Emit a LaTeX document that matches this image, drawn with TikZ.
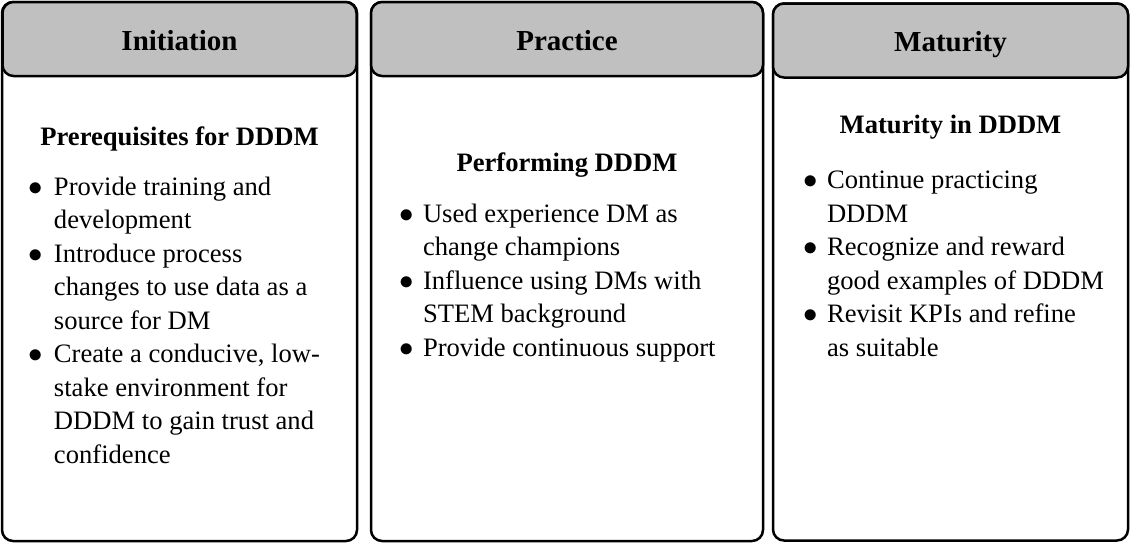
\documentclass[tikz,border=0pt]{standalone}
\usepackage{fontspec}
\setmainfont{Liberation Serif}
\usetikzlibrary{positioning}
\definecolor{hdgray}{HTML}{C0C0C0}
\newcommand{\blt}{$\bullet$}

\begin{document}
\begin{tikzpicture}[x=1pt,y=1pt,outer sep=0pt,
	panel/.style={draw,line width=1.25pt,rounded corners=5.5pt,fill=white,inner sep=0pt},
	phase/.style={panel,fill=hdgray,minimum height=37pt,text height=11pt,text depth=0pt,
		font=\bfseries\fontsize{14.5}{17}\selectfont},
	sub/.style={inner sep=0pt,anchor=base,font=\bfseries\fontsize{13.3}{16.75}\selectfont},
	items/.style={inner sep=0pt,anchor=base west,font=\fontsize{13.3}{16.75}\selectfont}]
	\useasboundingbox (0,0) rectangle (565,-271);
	% panels
	\node[panel,minimum width=177.5pt,minimum height=269.5pt,anchor=north west] (p1) at (1,-1) {};
	\node[panel,minimum width=196pt,minimum height=269.5pt,right=7pt of p1] (p2) {};
	\node[panel,minimum width=177.5pt,minimum height=268.5pt,right=5pt of p2,yshift=-0.25pt] (p3) {};
	% headers
	\node[phase,minimum width=177pt,anchor=north] (h1) at (p1.north) {Initiation};
	\node[phase,minimum width=196pt,anchor=north] (h2) at (p2.north) {Practice};
	\node[phase,minimum width=177.5pt,anchor=north] (h3) at (p3.north) {Maturity};
	% subheadings
	\node[below=34.5pt of h1.south,sub] (s1) {Prerequisites for DDDM};
	\node[below=47.5pt of h2.south,sub] (s2) {Performing DDDM};
	\node[below=28pt of h3.south,sub] (s3) {Maturity in DDDM};
	% bullet lists
	\node[below right=96.5pt and 13pt of p1.north west,items] (l1) {%
		\begin{tabular}[t]{@{}p{13pt}@{}l@{}}
		\blt & Provide training and\\
		& development\\
		\blt & Introduce process\\
		& changes to use data as a\\
		& source for DM\\
		\blt & Create a conducive, low-\\
		& stake environment for\\
		& DDDM to gain trust and\\
		& confidence
		\end{tabular}};
	\node[below right=110pt and 14pt of p2.north west,items] (l2) {%
		\begin{tabular}[t]{@{}p{12pt}@{}l@{}}
		\blt & Used experience DM as\\
		& change champions\\
		\blt & Influence using DMs with\\
		& STEM background\\
		\blt & Provide continuous support
		\end{tabular}};
	\node[below right=92.5pt and 15pt of p3.north west,items] (l3) {%
		\begin{tabular}[t]{@{}p{12pt}@{}l@{}}
		\blt & Continue practicing\\
		& DDDM\\
		\blt & Recognize and reward\\
		& good examples of DDDM\\
		\blt & Revisit KPIs and refine\\
		& as suitable
		\end{tabular}};
\end{tikzpicture}
\end{document}
